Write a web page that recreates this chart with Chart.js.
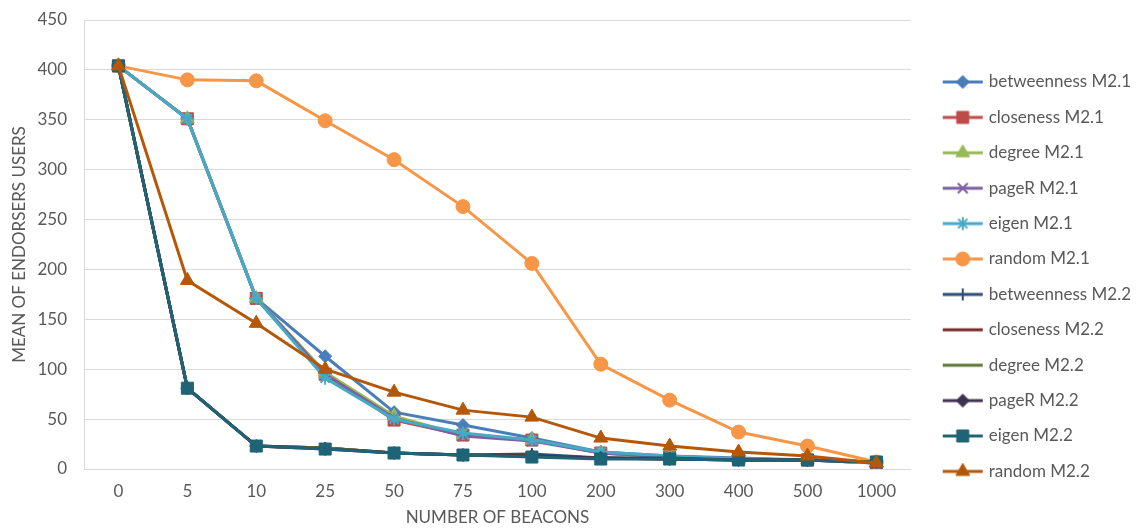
<!DOCTYPE html>
<html>
<head>
<meta charset="utf-8">
<script src="https://cdn.jsdelivr.net/npm/chart.js@4/dist/chart.umd.min.js"></script>
<style>
  html, body { margin: 0; padding: 0; background: #ffffff; }
  #wrap { width: 1139px; height: 528px; }
</style>
</head>
<body>
<div id="wrap"><canvas id="chart" width="1139" height="528"></canvas></div>
<script>
// Number of beacons placed (category axis)
const beacons = ['0', '5', '10', '25', '50', '75', '100', '200', '300', '400', '500', '1000'];
const yTicks = [0, 50, 100, 150, 200, 250, 300, 350, 400, 450];

// Mean of endorsers users, model M2.1
const betweennessM21 = [404, 351, 171, 113, 57, 44, 31, 17, 13, 11, 9, 6];
const closenessM21   = [404, 351, 171, 95, 49, 34, 29, 16, 12, 10, 9, 6];
const degreeM21      = [404, 351, 171, 97, 53, 34, 29, 16, 12, 10, 9, 6];
const pageRM21       = [404, 351, 171, 95, 51, 33, 28, 16, 12, 10, 9, 6];
const eigenM21       = [404, 351, 171, 91, 50, 36, 29, 17, 13, 10, 9, 6];
const randomM21      = [404, 390, 389, 349, 310, 263, 206, 105, 69, 37, 23, 7];

// Mean of endorsers users, model M2.2
const betweennessM22 = [404, 81, 23, 21, 16, 14, 15, 11, 11, 9, 9, 7];
const closenessM22   = [404, 81, 23, 21, 16, 14, 13, 11, 10, 9, 9, 7];
const degreeM22      = [404, 81, 23, 21, 16, 14, 13, 11, 10, 9, 9, 7];
const pageRM22       = [404, 81, 23, 20, 16, 14, 13, 11, 10, 9, 9, 7];
const eigenM22       = [404, 81, 23, 20, 16, 14, 12, 10, 10, 9, 9, 7];
const randomM22      = [404, 189, 146, 100, 77, 59, 52, 31, 23, 17, 13, 6];

const seriesNames = [
  'betweenness M2.1', 'closeness M2.1', 'degree M2.1', 'pageR M2.1', 'eigen M2.1', 'random M2.1',
  'betweenness M2.2', 'closeness M2.2', 'degree M2.2', 'pageR M2.2', 'eigen M2.2', 'random M2.2'
];
const seriesData = [
  betweennessM21, closenessM21, degreeM21, pageRM21, eigenM21, randomM21,
  betweennessM22, closenessM22, degreeM22, pageRM22, eigenM22, randomM22
];
const seriesColors = [
  '#4A7EBB', '#BE4B48', '#98B954', '#7D60A0', '#46AAC5', '#F79646',
  '#2C4D75', '#772C2A', '#5F7530', '#3F3151', '#1F6377', '#B65708'
];
const markerStyles = [
  'rectRot', 'rect', 'triangle', 'crossRot', 'star', 'circle',
  'cross', 'line', 'line', 'rectRot', 'rect', 'triangle'
];
const markerRadii = [6.5, 8.5, 8, 7, 6.5, 7, 6, 5, 6, 6.5, 8.5, 8];

const FONT = 'Lato, "Open Sans", "Liberation Sans", sans-serif';
const TEXT = '#595959';
const GRID = '#D9D9D9';
const LINE_W = 3;
const OPEN_STYLES = ['cross', 'crossRot', 'star', 'line'];

// Legend symbol: a short line segment with the series marker in the middle
function legendSymbol(i) {
  const c = document.createElement('canvas');
  c.width = 60; c.height = 18;
  const ctx = c.getContext('2d');
  ctx.strokeStyle = seriesColors[i];
  ctx.lineWidth = LINE_W;
  ctx.beginPath();
  ctx.moveTo(18, 9); ctx.lineTo(58, 9);
  ctx.stroke();
  ctx.fillStyle = seriesColors[i];
  ctx.strokeStyle = seriesColors[i];
  ctx.lineWidth = OPEN_STYLES.includes(markerStyles[i]) ? 2 : 1;
  if (Chart.helpers && Chart.helpers.drawPoint) {
    Chart.helpers.drawPoint(ctx, {
      pointStyle: markerStyles[i], radius: markerRadii[i], rotation: 0, borderWidth: ctx.lineWidth
    }, 38, 9);
  }
  return c;
}

const datasets = seriesNames.map((name, i) => {
  const open = OPEN_STYLES.includes(markerStyles[i]);
  return {
    label: name,
    data: seriesData[i],
    borderColor: seriesColors[i],
    backgroundColor: seriesColors[i],
    borderWidth: LINE_W,
    pointStyle: markerStyles[i],
    pointRadius: markerRadii[i],
    pointHoverRadius: markerRadii[i],
    pointBackgroundColor: seriesColors[i],
    pointBorderColor: seriesColors[i],
    pointBorderWidth: open ? 2 : 1,
    tension: 0,
    fill: false,
    // later series are painted on top
    order: seriesNames.length - i
  };
});

new Chart(document.getElementById('chart'), {
  type: 'line',
  data: { labels: beacons, datasets },
  options: {
    responsive: false,
    animation: false,
    events: [],
    layout: { padding: { left: 6, top: 20, right: -2, bottom: 0 } },
    scales: {
      x: {
        type: 'category',
        offset: true,
        afterFit(scale) { scale.height = 59; },
        grid: { display: false, drawTicks: false },
        border: { display: true, color: GRID, width: 1 },
        ticks: {
          color: TEXT, padding: 12, maxRotation: 0, autoSkip: false,
          font: { family: FONT, size: 17 }
        },
        title: {
          display: true, text: 'NUMBER OF BEACONS', color: TEXT,
          font: { family: FONT, size: 17 },
          padding: { top: 0, bottom: 0 }
        }
      },
      y: {
        min: 0, max: 450,
        afterBuildTicks(scale) { scale.ticks = yTicks.map(v => ({ value: v })); },
        afterFit(scale) { scale.width = 78; },
        grid: { color: GRID, lineWidth: 1, drawTicks: true, tickLength: 8, tickColor: 'rgba(0,0,0,0)' },
        border: { display: true, color: GRID, width: 1 },
        ticks: {
          color: TEXT, padding: 9,
          font: { family: FONT, size: 17 }
        },
        title: {
          display: true, text: 'MEAN OF ENDORSERS USERS', color: TEXT,
          font: { family: FONT, size: 17 },
          padding: { top: 3.8, bottom: 0 }
        }
      }
    },
    plugins: {
      tooltip: { enabled: false },
      legend: {
        position: 'right',
        title: { display: true, text: '', padding: { top: 4.2, bottom: 0 }, font: { size: 1 } },
        labels: {
          usePointStyle: true,
          pointStyleWidth: 51,
          padding: 18.4,
          color: TEXT,
          font: { family: FONT, size: 17 },
          sort: (a, b) => a.datasetIndex - b.datasetIndex,
          generateLabels() {
            return seriesNames.map((name, i) => ({
              text: name,
              datasetIndex: i,
              fillStyle: seriesColors[i],
              strokeStyle: seriesColors[i],
              fontColor: TEXT,
              lineWidth: 0,
              pointStyle: legendSymbol(i),
              hidden: false
            }));
          }
        }
      }
    }
  }
});
</script>
</body>
</html>
